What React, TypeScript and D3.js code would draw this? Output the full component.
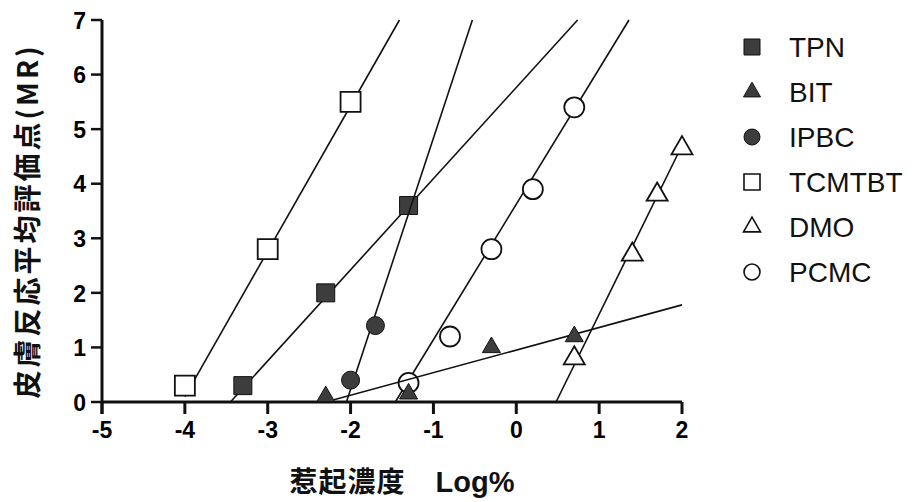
import React from 'react';
import * as d3 from 'd3';

const width = 917;
const height = 502;
const margin = { top: 20, right: 235, bottom: 98, left: 102 };

// series, in legend order
const names = ['TPN', 'BIT', 'IPBC', 'TCMTBT', 'DMO', 'PCMC'];
const shapes = ['square', 'triangle', 'circle', 'square', 'triangle', 'circle'];
const filled = [true, true, true, false, false, false];

const tpnX = [-3.3, -2.3, -1.3];
const tpnY = [0.3, 2.0, 3.6];
const bitX = [-2.3, -1.3, -0.3, 0.7];
const bitY = [0.1, 0.15, 1.0, 1.2];
const ipbcX = [-2.0, -1.7];
const ipbcY = [0.4, 1.4];
const tcmtbtX = [-4, -3, -2];
const tcmtbtY = [0.3, 2.8, 5.5];
const dmoX = [0.7, 1.4, 1.7, 2.0];
const dmoY = [0.8, 2.7, 3.8, 4.65];
const pcmcX = [-1.3, -0.8, -0.3, 0.2, 0.7];
const pcmcY = [0.35, 1.2, 2.8, 3.9, 5.4];

// fitted lines, start and end in data units (same order as names)
const fitX0 = [-3.45, -2.3, -2.05, -4.0, 0.48, -1.46];
const fitY0 = [0, 0, 0, 0.1, 0, 0];
const fitX1 = [0.74, 2.0, -0.53, -1.41, 2.0, 1.36];
const fitY1 = [7, 1.78, 7, 7, 4.7, 7];

const xTicks = [-5, -4, -3, -2, -1, 0, 1, 2];
const yTicks = [0, 1, 2, 3, 4, 5, 6, 7];

const xTitle = '惹起濃度';
const xUnit = 'Log%';
const yTitle = '皮膚反応平均評価点(MR)';

const pointsX = [tpnX, bitX, ipbcX, tcmtbtX, dmoX, pcmcX];
const pointsY = [tpnY, bitY, ipbcY, tcmtbtY, dmoY, pcmcY];

// draw open series first so the filled ones sit on top
const drawOrder = [3, 5, 4, 0, 2, 1];

const fillGrey = '#3d3d3d';

const symbolOf = (shape: string) =>
  shape === 'square' ? d3.symbolSquare : shape === 'triangle' ? d3.symbolTriangle : d3.symbolCircle;

const markerSize = (shape: string, isFilled: boolean) => {
  if (shape === 'square') return isFilled ? 18 * 18 : 20 * 20;
  if (shape === 'circle') return isFilled ? Math.PI * 9 * 9 : Math.PI * 10 * 10;
  // triangle: width w -> size = (w / (2*sqrt3))^2 * 3*sqrt3
  const w = isFilled ? 18 : 21;
  const y = w / (2 * Math.sqrt(3));
  return y * y * 3 * Math.sqrt(3);
};

const legendSize = (shape: string) => {
  if (shape === 'square') return 16 * 16;
  if (shape === 'circle') return Math.PI * 8 * 8;
  const y = 17 / (2 * Math.sqrt(3));
  return y * y * 3 * Math.sqrt(3);
};

const App = () => {
  const x = d3.scaleLinear().domain([-5, 2]).range([margin.left, width - margin.right]);
  const y = d3.scaleLinear().domain([0, 7]).range([height - margin.bottom - 2, margin.top]);

  const line = d3.line<[number, number]>().x(d => x(d[0])).y(d => y(d[1]));

  const tickFont = { fontFamily: '"Liberation Sans", Arial, sans-serif', fontWeight: 'bold', fontSize: 23 };

  return (
    <svg width={width} height={height} style={{ position: 'absolute', left: 0, top: 0, background: '#fff' }}>
      {/* axes */}
      <line x1={x(-5)} x2={x(2)} y1={y(0)} y2={y(0)} stroke="#111" strokeWidth={3} />
      <line x1={x(-5)} x2={x(-5)} y1={y(7)} y2={y(0) + 12} stroke="#111" strokeWidth={3} />
      {xTicks.map(t => (
        <g key={'x' + t}>
          <line x1={x(t)} x2={x(t)} y1={y(0)} y2={y(0) + 12} stroke="#111" strokeWidth={3} />
          <text x={x(t)} y={y(0) + 36} textAnchor="middle" {...tickFont}>{t}</text>
        </g>
      ))}
      {yTicks.map(t => (
        <g key={'y' + t}>
          <line x1={x(-5) - 11} x2={x(-5)} y1={y(t)} y2={y(t)} stroke="#111" strokeWidth={2.5} />
          <text x={x(-5) - 16} y={y(t)} dy="0.38em" textAnchor="end" {...tickFont}>{t}</text>
        </g>
      ))}

      {/* series */}
      {drawOrder.map(i => {
        const sym = d3.symbol().type(symbolOf(shapes[i])).size(markerSize(shapes[i], filled[i]));
        const pts = pointsX[i].map((v, j) => [v, pointsY[i][j]] as [number, number]);
        return (
          <g key={names[i]}>
            <path
              d={line([[fitX0[i], fitY0[i]], [fitX1[i], fitY1[i]]]) || ''}
              fill="none"
              stroke="#111"
              strokeWidth={1.6}
            />
            {pts.map((p, j) => (
              <path
                key={j}
                d={sym() || ''}
                transform={`translate(${x(p[0])},${y(p[1])})`}
                fill={filled[i] ? fillGrey : '#fff'}
                stroke="#111"
                strokeWidth={filled[i] ? 1 : 1.8}
              />
            ))}
          </g>
        );
      })}

      {/* legend */}
      {names.map((n, i) => {
        const sym = d3.symbol().type(symbolOf(shapes[i])).size(legendSize(shapes[i]));
        const cy = 47 + i * 45;
        return (
          <g key={'lg' + n}>
            <path
              d={sym() || ''}
              transform={`translate(752,${cy})`}
              fill={filled[i] ? fillGrey : '#fff'}
              stroke="#111"
              strokeWidth={filled[i] ? 1 : 1.6}
            />
            <text x={789} y={cy} dy="0.36em" fontFamily='"Liberation Sans", Arial, sans-serif' fontSize={28} fill="#111">
              {n}
            </text>
          </g>
        );
      })}

      {/* axis titles */}
      <text x={402} y={492} textAnchor="middle" fill="#111">
        <tspan fontFamily='"Noto Sans CJK JP", sans-serif' fontWeight="bold" fontSize={28} letterSpacing={1}>
          {xTitle}
        </tspan>
        <tspan dx={30} fontFamily='"Liberation Sans", Arial, sans-serif' fontWeight="bold" fontSize={29}>
          {xUnit}
        </tspan>
      </text>
      <text
        transform="translate(28,221) rotate(-90)"
        textAnchor="middle"
        dy="0.36em"
        fontFamily='"Noto Sans CJK JP", sans-serif'
        fontWeight="bold"
        fontSize={28}
        letterSpacing={3}
        fill="#111"
      >
        {yTitle}
      </text>
    </svg>
  );
};

export default App;
